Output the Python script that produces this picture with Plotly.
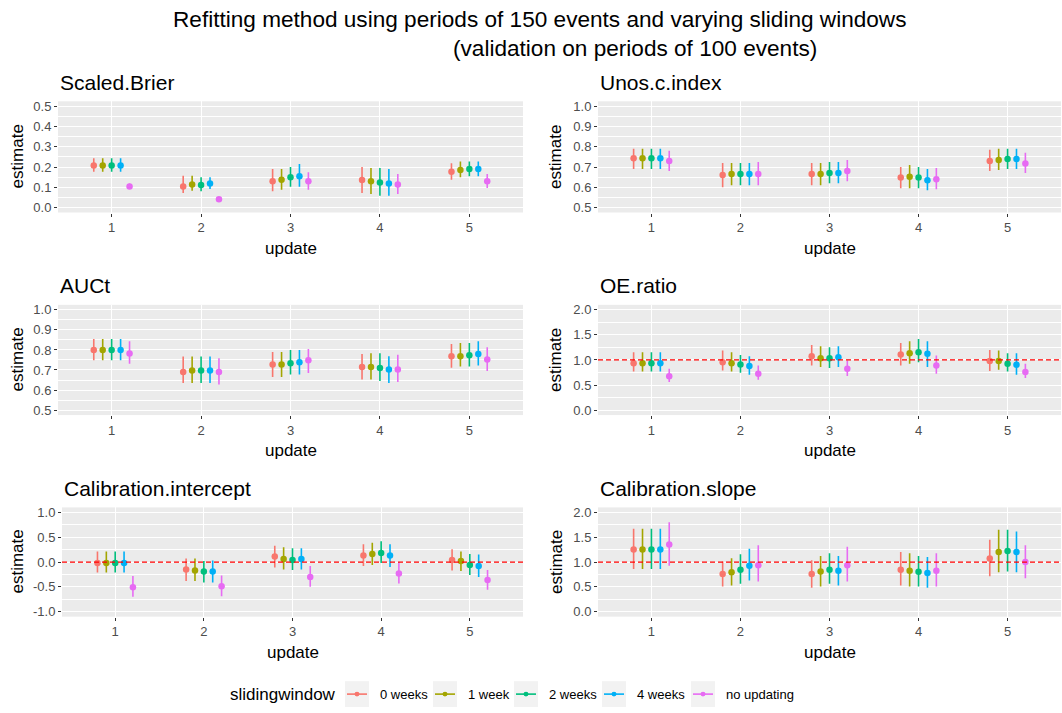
import plotly.graph_objects as go

W, H = 1062, 713

updates = [1, 2, 3, 4, 5]
windows = ["0 weeks", "1 week", "2 weeks", "4 weeks", "no updating"]
colors = ["#F8766D", "#A3A500", "#00BF7D", "#00B0F6", "#E76BF3"]
metrics = ["Scaled.Brier", "Unos.c.index", "AUCt", "OE.ratio",
           "Calibration.intercept", "Calibration.slope"]

# rows = sliding windows, columns = updates 1..5
brier_est = [[0.207, 0.104, 0.129, 0.136, 0.177],
             [0.207, 0.113, 0.137, 0.129, 0.185],
             [0.207, 0.111, 0.149, 0.124, 0.190],
             [0.207, 0.119, 0.154, 0.118, 0.190],
             [0.104, 0.040, 0.129, 0.113, 0.129]]
brier_lo = [[0.177, 0.071, 0.080, 0.071, 0.137],
            [0.177, 0.083, 0.088, 0.066, 0.149],
            [0.177, 0.080, 0.103, 0.058, 0.154],
            [0.177, 0.091, 0.103, 0.058, 0.154],
            [0.091, 0.030, 0.088, 0.066, 0.096]]
brier_hi = [[0.243, 0.157, 0.190, 0.200, 0.219],
            [0.243, 0.157, 0.190, 0.195, 0.227],
            [0.243, 0.149, 0.200, 0.195, 0.227],
            [0.243, 0.149, 0.215, 0.190, 0.227],
            [0.119, 0.050, 0.174, 0.166, 0.166]]

unos_est = [[0.743, 0.660, 0.665, 0.648, 0.730],
            [0.743, 0.665, 0.665, 0.652, 0.735],
            [0.743, 0.665, 0.670, 0.648, 0.740],
            [0.743, 0.665, 0.670, 0.635, 0.740],
            [0.730, 0.665, 0.680, 0.640, 0.718]]
unos_lo = [[0.690, 0.600, 0.610, 0.595, 0.680],
           [0.690, 0.610, 0.610, 0.595, 0.685],
           [0.690, 0.610, 0.620, 0.595, 0.690],
           [0.690, 0.610, 0.620, 0.585, 0.690],
           [0.680, 0.610, 0.630, 0.590, 0.670]]
unos_hi = [[0.790, 0.720, 0.720, 0.700, 0.785],
           [0.790, 0.720, 0.720, 0.710, 0.790],
           [0.790, 0.720, 0.725, 0.700, 0.790],
           [0.790, 0.720, 0.725, 0.690, 0.790],
           [0.780, 0.725, 0.735, 0.695, 0.770]]

auct_est = [[0.800, 0.690, 0.728, 0.715, 0.769],
            [0.800, 0.697, 0.728, 0.715, 0.769],
            [0.800, 0.697, 0.734, 0.710, 0.774],
            [0.800, 0.697, 0.739, 0.703, 0.780],
            [0.782, 0.690, 0.748, 0.703, 0.752]]
auct_lo = [[0.748, 0.635, 0.665, 0.653, 0.711],
           [0.748, 0.635, 0.665, 0.653, 0.718],
           [0.748, 0.635, 0.678, 0.645, 0.718],
           [0.748, 0.635, 0.678, 0.635, 0.723],
           [0.731, 0.627, 0.685, 0.640, 0.695]]
auct_hi = [[0.855, 0.767, 0.790, 0.780, 0.830],
           [0.855, 0.767, 0.790, 0.784, 0.835],
           [0.855, 0.767, 0.800, 0.784, 0.835],
           [0.855, 0.767, 0.800, 0.769, 0.843],
           [0.843, 0.759, 0.805, 0.776, 0.813]]

oe_est = [[0.937, 0.957, 1.076, 1.109, 0.977],
          [0.937, 0.937, 1.036, 1.135, 0.977],
          [0.937, 0.910, 1.036, 1.155, 0.924],
          [0.937, 0.878, 1.056, 1.122, 0.904],
          [0.673, 0.726, 0.825, 0.890, 0.759]]
oe_lo = [[0.770, 0.790, 0.890, 0.890, 0.779],
         [0.770, 0.770, 0.858, 0.924, 0.805],
         [0.770, 0.746, 0.838, 0.957, 0.770],
         [0.770, 0.706, 0.858, 0.858, 0.706],
         [0.560, 0.607, 0.680, 0.726, 0.640]]
oe_hi = [[1.155, 1.190, 1.300, 1.340, 1.200],
         [1.155, 1.155, 1.274, 1.373, 1.190],
         [1.155, 1.100, 1.254, 1.420, 1.135],
         [1.155, 1.076, 1.274, 1.373, 1.135],
         [0.825, 0.890, 0.990, 1.090, 0.924]]

cint_est = [[-0.02, -0.15, 0.11, 0.13, 0.04],
            [-0.02, -0.17, 0.06, 0.16, 0.02],
            [-0.02, -0.19, 0.04, 0.18, -0.06],
            [-0.02, -0.19, 0.06, 0.13, -0.08],
            [-0.51, -0.49, -0.30, -0.23, -0.36]]
cint_lo = [[-0.21, -0.38, -0.11, -0.08, -0.17],
           [-0.21, -0.38, -0.15, -0.06, -0.18],
           [-0.21, -0.41, -0.16, -0.02, -0.26],
           [-0.21, -0.41, -0.15, -0.10, -0.30],
           [-0.70, -0.69, -0.50, -0.43, -0.56]]
cint_hi = [[0.21, 0.07, 0.33, 0.36, 0.26],
           [0.21, 0.07, 0.30, 0.39, 0.21],
           [0.21, 0.02, 0.28, 0.42, 0.16],
           [0.21, 0.03, 0.28, 0.36, 0.15],
           [-0.28, -0.27, -0.08, 0.00, -0.16]]

cslope_est = [[1.254, 0.759, 0.759, 0.845, 1.069],
              [1.254, 0.792, 0.812, 0.825, 1.200],
              [1.254, 0.845, 0.845, 0.805, 1.220],
              [1.254, 0.924, 0.825, 0.779, 1.200],
              [1.353, 0.937, 0.937, 0.825, 1.003]]
cslope_lo = [[0.858, 0.508, 0.482, 0.528, 0.713],
             [0.858, 0.528, 0.508, 0.508, 0.792],
             [0.858, 0.561, 0.561, 0.508, 0.812],
             [0.858, 0.627, 0.528, 0.482, 0.792],
             [0.924, 0.607, 0.607, 0.508, 0.673]]
cslope_hi = [[1.670, 1.010, 1.036, 1.200, 1.450],
             [1.670, 1.076, 1.122, 1.175, 1.650],
             [1.670, 1.155, 1.175, 1.122, 1.650],
             [1.670, 1.267, 1.122, 1.100, 1.617],
             [1.800, 1.340, 1.307, 1.175, 1.340]]

y_limits = [(0.0, 0.5), (0.5, 1.0), (0.5, 1.0), (0.0, 2.0), (-1.0, 1.0), (0.0, 2.0)]
y_dtick = [0.1, 0.1, 0.1, 0.5, 0.5, 0.5]
ref_lines = [None, None, None, 1.0, 0.0, 1.0]

series = [(brier_est, brier_lo, brier_hi), (unos_est, unos_lo, unos_hi),
          (auct_est, auct_lo, auct_hi), (oe_est, oe_lo, oe_hi),
          (cint_est, cint_lo, cint_hi), (cslope_est, cslope_lo, cslope_hi)]

# ---- layout geometry (pixels) ----
panel_px = [  # x0, x1, ytop, ybottom
    (58, 523, 100, 212), (598, 1061, 100, 212),
    (58, 523, 305, 416), (598, 1061, 305, 416),
    (62, 523, 509, 619), (598, 1061, 509, 619),
]


def px_x(v):
    return v / W


def px_y(v):
    return 1 - v / H


FONT = "Liberation Sans, Arial, sans-serif"
dodge = 0.4
n = len(windows)

fig = go.Figure()
layout = dict(
    width=W, height=H, margin=dict(l=0, r=0, t=0, b=0),
    paper_bgcolor="white", plot_bgcolor="#EBEBEB",
    font=dict(family=FONT, color="black"), showlegend=False,
)
annotations = []
shapes = []

for k, (name, (est, lo, hi)) in enumerate(zip(metrics, series)):
    idx = "" if k == 0 else str(k + 1)
    x0, x1, yt, yb = panel_px[k]
    for i, wname in enumerate(windows):
        off = (i - (n - 1) / 2) * dodge / (n - 1)
        xs = [u + off for u in updates]
        fig.add_trace(go.Scatter(
            x=xs, y=est[i], mode="markers", name=wname,
            marker=dict(color=colors[i], size=6.5),
            error_y=dict(type="data", symmetric=False,
                         array=[h - e for h, e in zip(hi[i], est[i])],
                         arrayminus=[e - l for e, l in zip(est[i], lo[i])],
                         color=colors[i], thickness=1.6, width=0),
            xaxis="x" + idx, yaxis="y" + idx, showlegend=False,
            hovertemplate=name + "<br>" + wname + "<br>update %{x:.0f}: %{y:.3f}<extra></extra>",
        ))
    lo_lim, hi_lim = y_limits[k]
    pad = (hi_lim - lo_lim) * 0.05
    nt = int(round((hi_lim - lo_lim) / y_dtick[k]))
    tvals = [round(lo_lim + j * y_dtick[k], 6) for j in range(nt + 1)]
    ttext = ["%.1f" % v if abs(v) > 1e-9 else "0.0" for v in tvals]
    layout["xaxis" + idx] = dict(
        domain=[px_x(x0), px_x(x1)], anchor="y" + idx,
        range=[0.4, 5.6], tickvals=updates, ticktext=[str(u) for u in updates],
        ticks="outside", ticklen=3, tickcolor="#333333", tickwidth=1,
        tickfont=dict(size=13, color="#4D4D4D", family=FONT),
        showgrid=True, gridcolor="white", gridwidth=1.1, zeroline=False,
        showline=False, fixedrange=True,
    )
    layout["yaxis" + idx] = dict(
        domain=[px_y(yb), px_y(yt)], anchor="x" + idx,
        range=[lo_lim - pad, hi_lim + pad], tickvals=tvals, ticktext=ttext,
        ticks="outside", ticklen=3, tickcolor="#333333", tickwidth=1,
        tickfont=dict(size=13, color="#4D4D4D", family=FONT),
        showgrid=True, gridcolor="white", gridwidth=1.1, zeroline=False,
        minor=dict(showgrid=True, gridcolor="white", gridwidth=0.5,
                   tickvals=[round(v + y_dtick[k] / 2, 6) for v in tvals[:-1]]),
        showline=False, fixedrange=True,
    )
    # panel title
    annotations.append(dict(text=name, x=px_x(x0), y=px_y(yt - 19), xref="paper", yref="paper",
                            xanchor="left", yanchor="middle", showarrow=False,
                            font=dict(size=21, color="black", family=FONT)))
    # axis titles
    annotations.append(dict(text="update", x=px_x((x0 + x1) / 2), y=px_y(yb + 36),
                            xref="paper", yref="paper", xanchor="center", yanchor="middle",
                            showarrow=False, font=dict(size=17, color="black", family=FONT)))
    ex = 17.5 if x0 < 300 else 556
    annotations.append(dict(text="estimate", x=px_x(ex), y=px_y((yt + yb) / 2),
                            xref="paper", yref="paper", xanchor="center", yanchor="middle",
                            textangle=-90, showarrow=False,
                            font=dict(size=17, color="black", family=FONT)))
    if ref_lines[k] is not None:
        shapes.append(dict(type="line", xref="x" + idx + " domain", x0=0, x1=1,
                           yref="y" + idx, y0=ref_lines[k], y1=ref_lines[k],
                           line=dict(color="#FF0000", width=1.3, dash="5px,3px"), layer="above"))

# main title
annotations.append(dict(text="Refitting method using periods of 150 events and varying sliding windows",
                        x=px_x(539), y=px_y(18), xref="paper", yref="paper",
                        xanchor="center", yanchor="middle", showarrow=False,
                        font=dict(size=22.6, color="black", family=FONT)))
annotations.append(dict(text="(validation on periods of 100 events)",
                        x=px_x(635), y=px_y(47), xref="paper", yref="paper",
                        xanchor="center", yanchor="middle", showarrow=False,
                        font=dict(size=22.6, color="black", family=FONT)))

# legend (drawn manually to mimic ggplot keys)
leg_y0, leg_y1 = 684, 710
leg_mid = (leg_y0 + leg_y1) / 2
key_left = [345, 433, 514, 602, 691]
annotations.append(dict(text="slidingwindow", x=px_x(338), y=px_y(leg_mid), xref="paper", yref="paper",
                        xanchor="right", yanchor="middle", showarrow=False,
                        font=dict(size=17, color="black", family=FONT)))
for i, wname in enumerate(windows):
    kl = key_left[i]
    shapes.append(dict(type="rect", xref="paper", yref="paper",
                       x0=px_x(kl), x1=px_x(kl + 24), y0=px_y(leg_y1), y1=px_y(leg_y0),
                       fillcolor="#F2F2F2", line=dict(width=0), layer="below"))
    shapes.append(dict(type="line", xref="paper", yref="paper",
                       x0=px_x(kl + 2), x1=px_x(kl + 22), y0=px_y(leg_mid), y1=px_y(leg_mid),
                       line=dict(color=colors[i], width=1.6)))
    shapes.append(dict(type="circle", xref="paper", yref="paper",
                       x0=px_x(kl + 9.5), x1=px_x(kl + 14.5), y0=px_y(leg_mid + 2.5), y1=px_y(leg_mid - 2.5),
                       fillcolor=colors[i], line=dict(width=0)))
    annotations.append(dict(text=wname, x=px_x(kl + 33), y=px_y(leg_mid), xref="paper", yref="paper",
                            xanchor="left", yanchor="middle", showarrow=False,
                            font=dict(size=13, color="black", family=FONT)))

layout["annotations"] = annotations
layout["shapes"] = shapes
fig.update_layout(**layout)
fig.write_html("out.html", config={"displayModeBar": False},
               post_script="document.body.style.margin='0';document.body.style.overflow='hidden';")
